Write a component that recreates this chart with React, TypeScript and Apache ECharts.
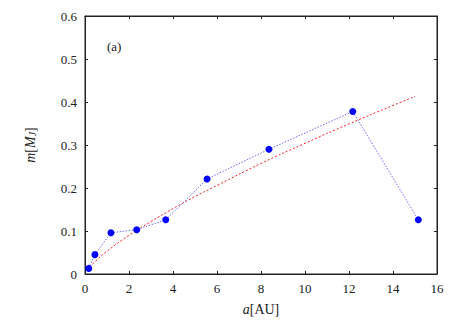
import React, { useEffect, useRef } from "react";
import * as echarts from "echarts";

// Observed planets: semi-major axis a [AU] and mass m [M_J]
const planetA = [0.17, 0.45, 1.18, 2.35, 3.67, 5.55, 8.36, 12.17, 15.15];
const planetM = [0.013, 0.045, 0.096, 0.103, 0.126, 0.221, 0.29, 0.378, 0.126];

// Red dotted fit curve
const fitA = [0.1, 0.5, 1, 2, 3, 4, 5, 6, 8, 10, 12, 14, 15];
const fitM = [0.01, 0.031, 0.053, 0.09, 0.122, 0.152, 0.18, 0.206, 0.257, 0.304, 0.349, 0.392, 0.413];

const xTicks = { min: 0, max: 16, interval: 2 };
const yTicks = { min: 0, max: 0.6, interval: 0.1 };
const panelLabel = "(a)";

const FONT = "Liberation Serif";
const AXIS_COLOR = "#222";

export default function App() {
  const ref = useRef<HTMLDivElement>(null);

  useEffect(() => {
    if (!ref.current) return;
    const chart = echarts.init(ref.current, undefined, { renderer: "svg" });
    const mkLine = () => ({ show: true, onZero: false, lineStyle: { color: AXIS_COLOR, width: 1 } });
    const mkTick = () => ({ show: true, inside: true, length: 3, lineStyle: { color: AXIS_COLOR, width: 1 } });
    chart.setOption({
      animation: false,
      backgroundColor: "#fff",
      grid: { left: 85, top: 16, right: 21, bottom: 46, show: true, borderColor: AXIS_COLOR, borderWidth: 1, backgroundColor: "transparent" },
      xAxis: [
        {
          type: "value",
          position: "bottom",
          ...xTicks,
          axisLine: mkLine(),
          axisTick: mkTick(),
          splitLine: { show: false },
          axisLabel: { color: "#222", fontFamily: FONT, fontSize: 13, margin: 8 },
          name: "{i|a}{n|[AU]}",
          nameLocation: "middle",
          nameGap: 28,
          nameTextStyle: {
            rich: {
              i: { fontFamily: FONT, fontSize: 14, fontStyle: "italic", color: "#222" },
              n: { fontFamily: FONT, fontSize: 14, color: "#222" },
            },
          },
        },
        {
          type: "value",
          position: "top",
          ...xTicks,
          axisLine: mkLine(),
          axisTick: mkTick(),
          splitLine: { show: false },
          axisLabel: { show: false },
        },
      ],
      yAxis: [
        {
          type: "value",
          position: "left",
          ...yTicks,
          axisLine: mkLine(),
          axisTick: mkTick(),
          splitLine: { show: false },
          axisLabel: {
            color: "#222",
            fontFamily: FONT,
            fontSize: 13,
            margin: 8,
            formatter: (v: number) => (v === 0 ? "0" : v.toFixed(1)),
          },
          name: "{i|m}{n|[}{i|M}{s|J}{n|]}",
          nameLocation: "middle",
          nameGap: 48,
          nameTextStyle: {
            rich: {
              i: { fontFamily: FONT, fontSize: 14, fontStyle: "italic", color: "#222" },
              n: { fontFamily: FONT, fontSize: 14, color: "#222" },
              s: { fontFamily: FONT, fontSize: 10, fontStyle: "italic", color: "#222", verticalAlign: "bottom", padding: [4, 0, 0, 0] },
            },
          },
        },
        {
          type: "value",
          position: "right",
          ...yTicks,
          axisLine: mkLine(),
          axisTick: mkTick(),
          splitLine: { show: false },
          axisLabel: { show: false },
        },
      ],
      graphic: [
        {
          type: "text",
          left: 107,
          top: 40,
          style: { text: panelLabel, fontFamily: FONT, fontSize: 13, fill: "#222" },
        },
      ],
      series: [
        {
          type: "line",
          data: fitA.map((a, i) => [a, fitM[i]]),
          showSymbol: false,
          smooth: true,
          lineStyle: { color: "#ff2020", width: 1, type: [2, 2] },
          z: 2,
        },
        {
          type: "line",
          data: planetA.map((a, i) => [a, planetM[i]]),
          symbol: "circle",
          symbolSize: 7,
          itemStyle: { color: "#0000ff" },
          lineStyle: { color: "#6b6bff", width: 1, type: [1.5, 1.5] },
          z: 3,
        },
        {
          type: "scatter",
          xAxisIndex: 1,
          yAxisIndex: 1,
          data: [],
          silent: true,
        },
      ],
    });
    return () => chart.dispose();
  }, []);

  return (
    <div
      ref={ref}
      style={{ position: "fixed", left: 0, top: 0, width: 458, height: 321 }}
    />
  );
}
